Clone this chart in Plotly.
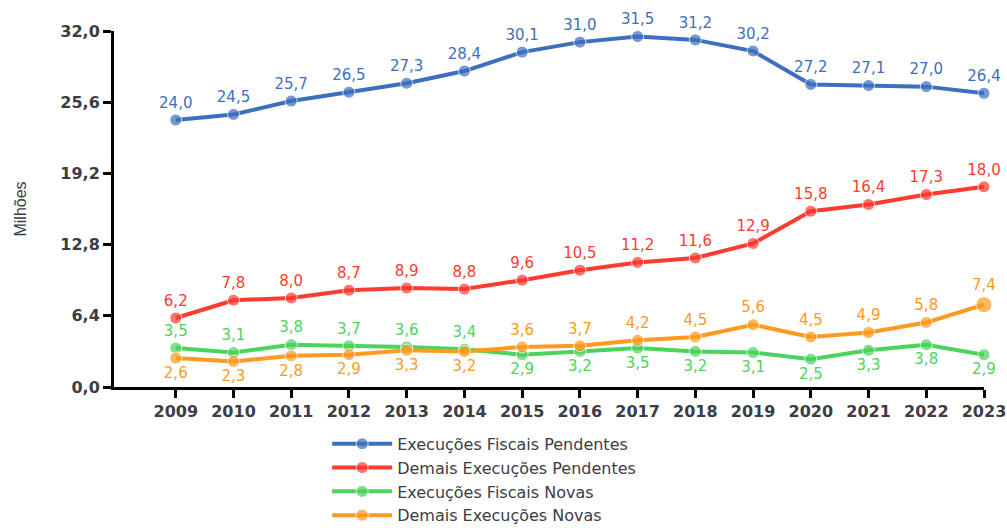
import plotly.graph_objects as go

anos = list(range(2009, 2024))

fiscais_pendentes = [24.0, 24.5, 25.7, 26.5, 27.3, 28.4, 30.1, 31.0, 31.5, 31.2, 30.2, 27.2, 27.1, 27.0, 26.4]
demais_pendentes = [6.2, 7.8, 8.0, 8.7, 8.9, 8.8, 9.6, 10.5, 11.2, 11.6, 12.9, 15.8, 16.4, 17.3, 18.0]
fiscais_novas = [3.5, 3.1, 3.8, 3.7, 3.6, 3.4, 2.9, 3.2, 3.5, 3.2, 3.1, 2.5, 3.3, 3.8, 2.9]
demais_novas = [2.6, 2.3, 2.8, 2.9, 3.3, 3.2, 3.6, 3.7, 4.2, 4.5, 5.6, 4.5, 4.9, 5.8, 7.4]

y_ticks = [0.0, 6.4, 12.8, 19.2, 25.6, 32.0]


def rotulos(vals):
    return [f"{v:.1f}".replace(".", ",") for v in vals]


# green labels above for 2009-2014, below afterwards; orange the opposite
pos_verde = ["top center"] * 6 + ["bottom center"] * 9
pos_laranja = ["bottom center"] * 6 + ["top center"] * 9

series = [
    ("Execuções Fiscais Pendentes", fiscais_pendentes, "#3D6FC0", "top center"),
    ("Demais Execuções Pendentes", demais_pendentes, "#FF3B30", "top center"),
    ("Execuções Fiscais Novas", fiscais_novas, "#4CD35C", pos_verde),
    ("Demais Execuções Novas", demais_novas, "#FF9A1F", pos_laranja),
]

fonte = "DejaVu Sans"
cinza = "#3c3c46"

fig = go.Figure()
for nome, vals, cor, pos in series:
    tamanhos = [12] * len(vals)
    if nome == "Demais Execuções Novas":
        tamanhos[-1] = 16
    fig.add_trace(go.Scatter(
        x=anos, y=vals, name=nome,
        mode="lines+markers+text",
        line=dict(color=cor, width=4),
        marker=dict(color=cor, size=tamanhos),
        text=rotulos(vals),
        textposition=pos,
        textfont=dict(color=cor, size=15, family=fonte),
        cliponaxis=False,
    ))

fig.update_xaxes(
    range=[2007.93, 2023.0],
    tickmode="array", tickvals=anos, ticktext=[str(a) for a in anos],
    showline=True, linecolor="black", linewidth=3,
    ticks="outside", ticklen=8, tickwidth=2.5, tickcolor="black",
    showgrid=False, zeroline=False,
    tickfont=dict(family=fonte, size=16, color=cinza, weight=700),
)
fig.update_yaxes(
    range=[0, 32], tickmode="array", tickvals=y_ticks,
    tickformat=".1f",
    showline=True, linecolor="black", linewidth=3,
    ticks="outside", ticklen=8, tickwidth=2.5, tickcolor="black",
    showgrid=False, zeroline=False,
    tickfont=dict(family=fonte, size=16, color=cinza, weight=700),
    title=dict(text="Milhões",
               font=dict(family="Liberation Sans Narrow, Liberation Sans", size=16, color=cinza),
               standoff=30),
)

fig.update_layout(
    width=1007, height=528,
    separators=",.",
    margin=dict(l=114, r=23, t=31, b=141, autoexpand=False),
    plot_bgcolor="white", paper_bgcolor="white",
    showlegend=True,
    legend=dict(
        x=0.245, y=-0.112, xanchor="left", yanchor="top",
        font=dict(family=fonte, size=16, color=cinza),
        itemwidth=60, tracegroupgap=0,
        bgcolor="rgba(0,0,0,0)",
    ),
)

fig.write_html("out.html", config={"displayModeBar": False},
               post_script="document.body.style.margin='0';")
